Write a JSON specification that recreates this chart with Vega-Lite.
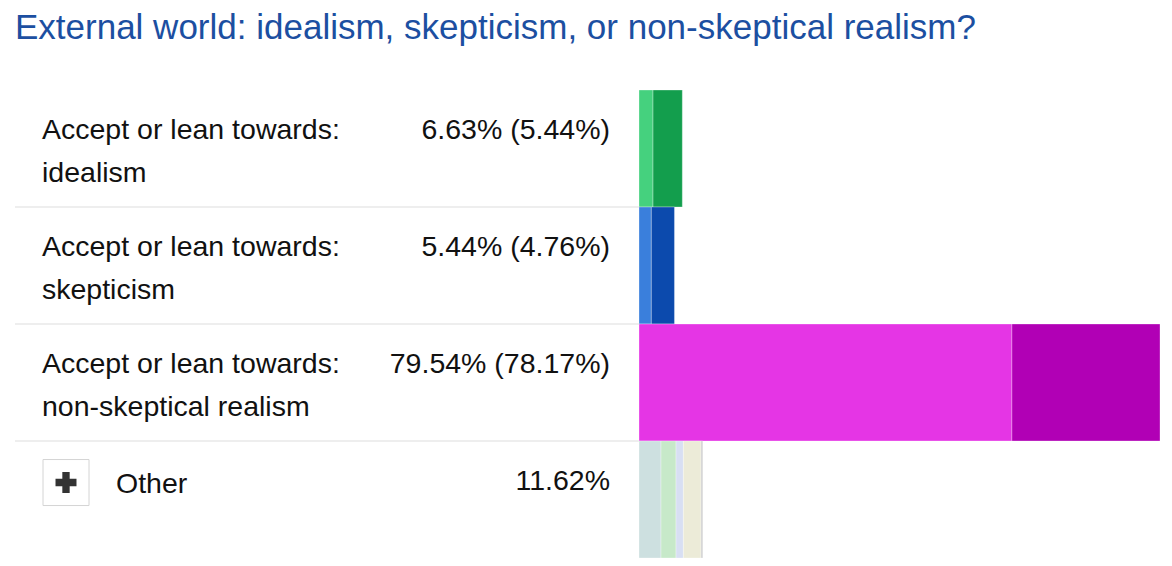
{
  "$schema": "https://vega.github.io/schema/vega-lite/v6.json",
  "background": "white",
  "padding": {"left": 14, "right": 13, "top": 10, "bottom": 0},
  "bounds": "flush",
  "title": {
    "text": "External world: idealism, skepticism, or non-skeptical realism?",
    "anchor": "start",
    "frame": "group",
    "font": "Liberation Sans",
    "fontSize": 35,
    "fontWeight": "normal",
    "color": "#1c4fa1",
    "dx": 0,
    "offset": 44
  },
  "config": {
    "view": {"stroke": null},
    "concat": {"spacing": 0},
    "text": {"font": "Liberation Sans", "fontSize": 28.5, "color": "#111111"}
  },
  "spacing": 0,
  "datasets": {
    "rows": [
      {"row": "idealism", "label1": "Accept or lean towards:", "label2": "idealism", "pct": "6.63% (5.44%)"},
      {"row": "skepticism", "label1": "Accept or lean towards:", "label2": "skepticism", "pct": "5.44% (4.76%)"},
      {"row": "realism", "label1": "Accept or lean towards:", "label2": "non-skeptical realism", "pct": "79.54% (78.17%)"},
      {"row": "other", "label1": "", "label2": "", "other": "Other", "pct": "11.62%"}
    ],
    "segs": [
      {"row": "idealism", "seg": "idealism-accept", "order": 1, "value": 2.14},
      {"row": "idealism", "seg": "idealism-lean", "order": 2, "value": 4.47},
      {"row": "skepticism", "seg": "skepticism-accept", "order": 1, "value": 1.88},
      {"row": "skepticism", "seg": "skepticism-lean", "order": 2, "value": 3.53},
      {"row": "realism", "seg": "realism-accept", "order": 1, "value": 56.9},
      {"row": "realism", "seg": "realism-lean", "order": 2, "value": 22.6},
      {"row": "other", "seg": "other-1", "order": 1, "value": 3.36},
      {"row": "other", "seg": "other-2", "order": 2, "value": 2.29},
      {"row": "other", "seg": "other-3", "order": 3, "value": 1.12},
      {"row": "other", "seg": "other-4", "order": 4, "value": 2.70},
      {"row": "other", "seg": "other-5", "order": 5, "value": 0.26}
    ]
  },
  "hconcat": [
    {
      "width": 624,
      "height": 468,
      "data": {"name": "rows"},
      "layer": [
        {
          "transform": [{"filter": "datum.row != 'idealism'"}],
          "mark": {"type": "rule", "color": "#dddddd", "strokeWidth": 1},
          "encoding": {
            "y": {"field": "row", "type": "nominal", "bandPosition": 0, "axis": null,
              "scale": {"type": "band", "domain": ["idealism", "skepticism", "realism", "other"], "paddingInner": 0, "paddingOuter": 0}}
          }
        },
        {
          "mark": {"type": "text", "align": "left", "baseline": "alphabetic", "dy": 49},
          "encoding": {
            "x": {"value": 27},
            "y": {"field": "row", "type": "nominal", "bandPosition": 0, "axis": null,
              "scale": {"type": "band", "domain": ["idealism", "skepticism", "realism", "other"], "paddingInner": 0, "paddingOuter": 0}},
            "text": {"field": "label1"}
          }
        },
        {
          "mark": {"type": "text", "align": "left", "baseline": "alphabetic", "dy": 92},
          "encoding": {
            "x": {"value": 27},
            "y": {"field": "row", "type": "nominal", "bandPosition": 0, "axis": null,
              "scale": {"type": "band", "domain": ["idealism", "skepticism", "realism", "other"], "paddingInner": 0, "paddingOuter": 0}},
            "text": {"field": "label2"}
          }
        },
        {
          "mark": {"type": "text", "align": "right", "baseline": "alphabetic", "dy": 49},
          "encoding": {
            "x": {"value": 595},
            "y": {"field": "row", "type": "nominal", "bandPosition": 0, "axis": null,
              "scale": {"type": "band", "domain": ["idealism", "skepticism", "realism", "other"], "paddingInner": 0, "paddingOuter": 0}},
            "text": {"field": "pct"}
          }
        },
        {
          "transform": [{"filter": "datum.row == 'other'"}],
          "mark": {"type": "text", "align": "left", "baseline": "alphabetic", "dy": 52},
          "encoding": {
            "x": {"value": 101},
            "y": {"field": "row", "type": "nominal", "bandPosition": 0, "axis": null,
              "scale": {"type": "band", "domain": ["idealism", "skepticism", "realism", "other"], "paddingInner": 0, "paddingOuter": 0}},
            "text": {"field": "other"}
          }
        },
        {
          "transform": [{"filter": "datum.row == 'other'"}],
          "mark": {"type": "point", "shape": "square", "filled": true, "fill": "white", "stroke": "#d4d4d4", "strokeWidth": 1, "size": 2116, "opacity": 1},
          "encoding": {
            "x": {"value": 51},
            "y": {"field": "row", "type": "nominal", "bandPosition": 0.355, "axis": null,
              "scale": {"type": "band", "domain": ["idealism", "skepticism", "realism", "other"], "paddingInner": 0, "paddingOuter": 0}}
          }
        },
        {
          "transform": [{"filter": "datum.row == 'other'"}],
          "mark": {"type": "point", "shape": "M-1,-0.35H-0.35V-1H0.35V-0.35H1V0.35H0.35V1H-0.35V0.35H-1Z", "filled": true, "color": "#333333", "size": 440, "opacity": 1},
          "encoding": {
            "x": {"value": 51},
            "y": {"field": "row", "type": "nominal", "bandPosition": 0.355, "axis": null,
              "scale": {"type": "band", "domain": ["idealism", "skepticism", "realism", "other"], "paddingInner": 0, "paddingOuter": 0}}
          }
        }
      ]
    },
    {
      "width": 521,
      "height": 468,
      "data": {"name": "segs"},
      "mark": {"type": "bar", "stroke": "white", "strokeOpacity": 0.3, "strokeWidth": 1},
      "encoding": {
        "y": {"field": "row", "type": "nominal", "axis": null,
          "scale": {"type": "band", "domain": ["idealism", "skepticism", "realism", "other"], "paddingInner": 0, "paddingOuter": 0}},
        "x": {"field": "value", "type": "quantitative", "stack": "zero", "axis": null,
          "scale": {"domain": [0, 79.5], "nice": false}},
        "color": {"field": "seg", "type": "nominal", "legend": null,
          "scale": {
            "domain": ["idealism-accept", "idealism-lean", "skepticism-accept", "skepticism-lean", "realism-accept", "realism-lean", "other-1", "other-2", "other-3", "other-4", "other-5"],
            "range": ["#45d17e", "#139e4d", "#3a7fdc", "#0c4aad", "#e535e5", "#b100b5", "#cde0e0", "#c7e9c9", "#d8dff3", "#ecebd8", "#cccccc"]
          }},
        "order": {"field": "order", "type": "quantitative"}
      }
    }
  ]
}
